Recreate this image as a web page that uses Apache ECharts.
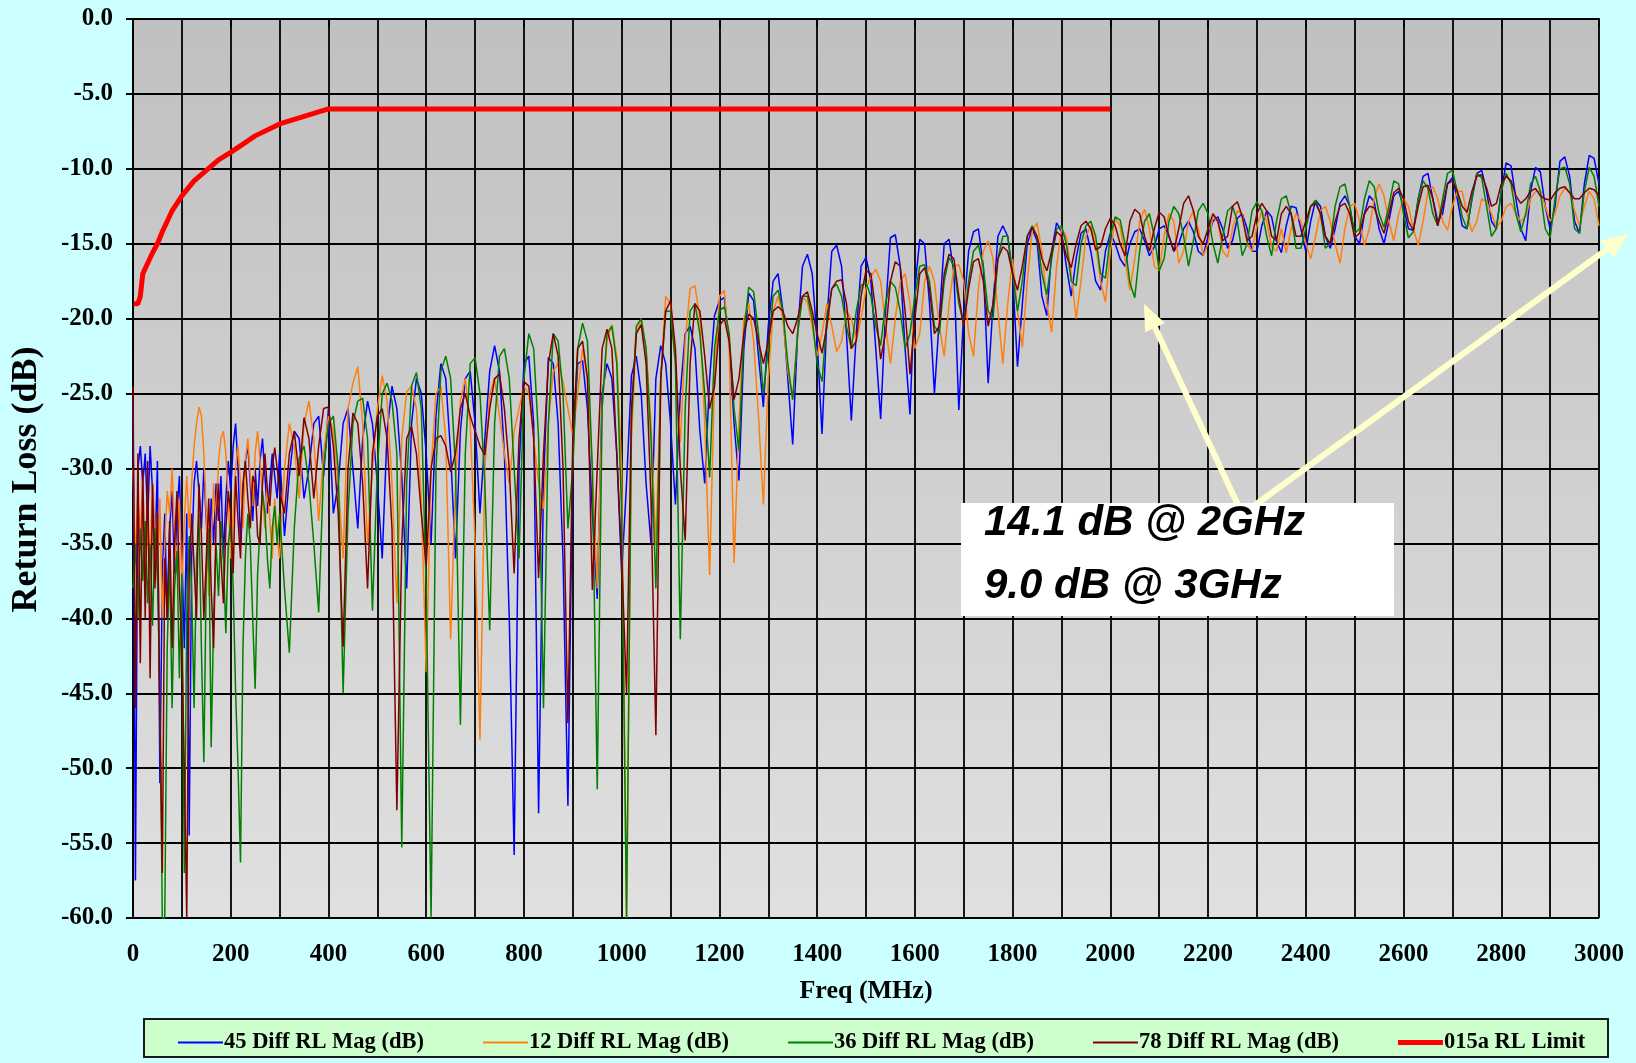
<!DOCTYPE html>
<html>
<head>
<meta charset="utf-8">
<title>Return Loss</title>
<script src="https://cdn.jsdelivr.net/npm/echarts@6.0.0/dist/echarts.min.js"></script>
<style>
  html, body { margin: 0; padding: 0; background: #ccffff; }
  #chart { width: 1636px; height: 1063px; }
</style>
</head>
<body>
<div id="chart"></div>
<script>
// frequency grid the traces were read on (MHz): 5 MHz below 300, 10 MHz above
const freqMHz = [
  ...Array.from({ length: 60 }, (_, i) => i * 5),
  ...Array.from({ length: 271 }, (_, i) => 300 + i * 10),
]

// 45 Diff RL Mag (dB)
const rl45 = [
  -25.5, -57.5, -30.0, -28.5, -31.0, -29.0, -33.5, -28.5, -31.5, -36.0,
  -29.5, -51.0, -37.0, -33.0, -40.0, -34.0, -31.5, -37.0, -33.0, -30.5,
  -35.5, -42.0, -33.0, -54.5, -36.0, -31.0, -29.5, -31.5, -34.0, -30.0,
  -33.5, -37.0, -32.0, -35.0, -31.0, -33.5, -30.5, -36.0, -32.0, -29.5,
  -31.5, -28.5, -27.0, -30.0, -35.0, -31.5, -29.5, -28.5, -31.0, -33.5,
  -30.0, -32.5, -29.5, -28.0, -30.5, -33.0, -31.0, -29.0, -30.5, -32.0,
  -29.0, -34.5, -30.5, -27.5, -28.0, -32.0, -30.0, -27.0, -26.5, -30.5,
  -26.0, -33.0, -31.0, -27.0, -26.0, -30.0, -34.0, -28.0, -25.5, -27.0,
  -31.0, -36.0, -27.5, -24.5, -26.0, -30.5, -38.0, -27.0, -24.0, -25.0,
  -29.0, -35.0, -26.5, -23.0, -24.0, -29.0, -36.0, -27.5, -24.0, -23.5,
  -27.0, -33.0, -28.0, -23.5, -21.8, -23.5, -29.0, -40.0, -55.8, -30.0,
  -23.0, -22.5, -27.0, -53.0, -31.0, -22.6, -23.0, -27.0, -36.0, -52.5,
  -29.0, -23.0, -22.8, -26.0, -33.0, -38.7, -25.0, -23.0, -24.0, -29.0,
  -37.0, -31.0, -23.8, -22.5, -25.0, -31.0, -35.0, -24.0, -21.8, -23.0,
  -27.0, -32.4, -25.0, -21.0, -20.5, -22.0, -27.5, -31.0, -24.0, -19.8,
  -18.8, -18.6, -21.5, -27.0, -30.8, -22.0, -18.3, -18.8, -22.5, -25.9,
  -20.5, -17.5, -17.0, -19.5, -24.0, -28.4, -21.0, -16.5, -15.7, -17.0,
  -21.5, -27.7, -20.0, -15.5, -15.1, -16.5, -21.0, -26.8, -21.0, -16.5,
  -15.9, -17.5, -22.0, -26.7, -19.5, -14.6, -14.4, -16.5, -22.0, -26.4,
  -18.0, -14.7, -15.0, -19.0, -25.0, -20.0, -15.0, -14.7, -17.0, -26.1,
  -19.5, -15.5, -14.2, -14.0, -16.5, -24.3, -19.0, -14.5, -13.8, -14.5,
  -17.0, -23.2, -19.0, -15.0, -14.0, -14.8, -18.5, -19.8, -15.5, -13.6,
  -14.2, -16.5, -18.5, -16.0, -14.3, -14.0, -15.5, -17.5, -18.1, -15.5,
  -14.3, -15.0, -16.0, -16.5, -15.0, -14.2, -14.0, -14.8, -15.8, -15.2,
  -14.0, -13.8, -14.5, -15.5, -15.0, -14.0, -13.5, -14.2, -15.5, -15.8,
  -14.5, -13.5, -13.2, -14.0, -15.3, -14.8, -13.3, -13.0, -14.0, -15.5,
  -15.5, -13.8, -12.8, -13.2, -14.8, -15.6, -13.8, -12.5, -12.6, -14.0,
  -15.5, -13.5, -12.1, -12.5, -14.5, -15.3, -14.0, -12.3, -11.8, -12.5,
  -14.5, -15.0, -13.0, -11.8, -12.2, -14.0, -15.0, -13.5, -11.8, -11.5,
  -12.5, -14.0, -14.1, -12.0, -10.5, -10.3, -12.0, -13.5, -13.0, -11.0,
  -10.6, -12.0, -13.8, -14.0, -12.0, -10.3, -10.1, -11.5, -13.5, -14.0,
  -11.5, -9.6, -9.8, -12.0, -14.0, -14.8, -11.5, -9.9, -10.2, -12.5,
  -14.0, -12.5, -9.5, -9.2, -10.5, -13.5, -14.3, -11.0, -9.1, -9.3,
  -11.0
]

// 12 Diff RL Mag (dB)
const rl12 = [
  -30.0, -36.0, -32.0, -34.5, -30.5, -38.0, -33.5, -36.0, -31.0, -34.0,
  -37.5, -32.0, -40.0, -35.0, -31.5, -33.0, -30.0, -34.5, -37.0, -32.0,
  -38.0, -33.5, -30.5, -34.0, -31.0, -28.5, -27.0, -25.9, -26.5, -29.0,
  -33.0, -38.5, -35.0, -31.0, -33.5, -29.5, -28.0, -27.5, -29.0, -32.0,
  -36.0, -33.0, -30.0, -28.5, -31.0, -34.0, -29.5, -28.0, -30.5, -32.5,
  -29.0, -27.5, -29.5, -32.0, -34.0, -31.0, -33.5, -36.0, -32.0, -34.5,
  -36.0, -30.0, -27.0, -28.5, -32.0, -27.0, -25.5, -28.0, -33.5, -29.0,
  -26.5, -27.5, -31.0, -36.0, -26.0, -24.3, -23.2, -27.0, -35.0, -30.0,
  -26.0, -23.8, -25.5, -31.0, -39.0, -28.0, -24.9, -24.5, -26.0, -32.0,
  -43.6, -30.0, -25.0, -24.5, -28.0, -41.4, -31.0, -25.5, -24.0, -27.0,
  -35.0, -48.1, -30.0, -25.0, -24.0, -26.5, -29.0, -31.0, -27.5, -26.0,
  -24.5, -25.0, -28.0, -31.0, -32.7, -27.0, -23.5, -23.0, -24.2, -26.0,
  -27.8, -25.0, -22.0, -24.0, -30.0, -38.0, -26.0, -21.5, -20.4, -22.5,
  -30.0, -60.0, -28.0, -21.0, -20.0, -22.0, -27.0, -35.1, -24.0, -18.5,
  -19.0, -23.0, -28.3, -21.5, -18.0, -17.8, -20.0, -27.0, -37.1, -24.0,
  -18.5, -18.1, -22.0, -36.3, -27.0, -20.0, -19.0, -21.5, -26.5, -32.4,
  -24.0, -19.5, -18.5, -20.0, -23.5, -25.4, -21.0, -18.5, -18.9, -20.5,
  -22.5, -21.0, -19.0, -20.5, -22.2, -21.5, -19.5, -20.0, -21.5, -20.0,
  -18.0, -17.2, -16.7, -17.5, -20.5, -23.0, -20.0, -17.5, -17.0, -19.0,
  -22.0, -21.0, -17.5, -16.5, -17.5, -20.5, -22.5, -19.0, -16.5, -16.4,
  -17.5, -21.0, -22.5, -18.0, -15.5, -14.8, -16.0, -19.5, -23.0, -19.0,
  -16.0, -19.5, -21.9, -17.5, -14.2, -13.6, -15.5, -19.0, -20.9, -16.5,
  -14.0, -14.5, -17.0, -20.0, -17.5, -14.5, -13.8, -15.0, -17.5, -18.9,
  -15.5, -13.3, -13.8, -16.0, -18.1, -16.0, -13.5, -12.7, -14.0, -16.5,
  -16.8, -14.5, -13.0, -13.5, -16.3, -15.5, -13.5, -12.8, -14.0, -15.8,
  -15.0, -13.2, -13.5, -15.5, -15.9, -14.0, -12.8, -13.0, -15.0, -15.5,
  -13.8, -12.8, -13.5, -15.2, -15.5, -14.0, -15.6, -14.0, -13.0, -13.5,
  -15.0, -16.0, -14.5, -12.8, -12.5, -13.5, -15.0, -16.3, -14.0, -12.5,
  -12.3, -13.5, -15.1, -14.0, -12.0, -11.0, -11.8, -13.5, -14.8, -13.0,
  -12.0, -12.5, -14.0, -15.1, -13.5, -11.5, -11.2, -12.0, -13.5, -14.1,
  -12.5, -11.5, -11.5, -13.0, -14.2, -13.5, -12.0, -12.2, -13.0, -13.9,
  -13.5, -12.5, -12.3, -13.0, -13.5, -13.2, -12.0, -11.5, -11.5, -12.5,
  -13.5, -13.0, -11.8, -11.3, -11.6, -12.8, -13.8, -12.5, -11.5, -12.0,
  -13.8
]

// 36 Diff RL Mag (dB)
const rl36 = [
  -38.0, -35.0, -40.0, -34.0, -37.5, -33.5, -39.0, -35.0, -40.5, -34.0,
  -37.0, -45.0, -60.0, -60.0, -42.0, -36.0, -46.0, -38.0, -35.5, -44.0,
  -37.0, -57.0, -40.0, -34.5, -38.0, -46.0, -36.0, -33.0, -42.0, -49.6,
  -37.0, -34.0, -48.6, -40.0, -35.0, -38.5, -33.5, -36.0, -41.0, -35.0,
  -33.5, -38.0, -45.0, -50.0, -56.3, -42.0, -36.0, -33.0, -35.0, -40.0,
  -44.7, -37.0, -34.0, -31.5, -33.0, -36.0, -38.0, -34.0, -32.5, -35.0,
  -33.0, -38.0, -42.3, -34.0, -29.3, -28.5, -31.0, -35.0, -39.6, -30.0,
  -27.0, -26.5, -30.0, -45.0, -33.0, -27.0, -25.5, -25.3, -28.0, -39.5,
  -30.0, -25.0, -24.3, -25.5, -29.0, -55.3, -31.0, -24.5, -23.6, -26.0,
  -38.0, -60.0, -30.0, -23.5, -22.5, -24.0, -30.0, -47.1, -29.0, -23.0,
  -22.6, -25.0, -31.0, -40.8, -27.0, -22.5, -22.0, -24.0, -30.0, -36.0,
  -24.0, -21.0, -22.0, -28.0, -46.0, -27.0, -21.0, -21.5, -25.0, -34.0,
  -30.0, -22.0, -20.3, -21.5, -30.0, -51.4, -26.0, -21.0, -20.5, -23.0,
  -33.0, -60.0, -27.0, -20.5, -20.0, -22.0, -28.0, -38.0, -24.0, -19.5,
  -19.5, -23.0, -41.4, -26.0, -19.5, -19.0, -21.0, -25.0, -30.6, -22.0,
  -19.5, -19.2, -21.0, -26.0, -28.8, -21.0, -17.9, -18.2, -21.0, -25.0,
  -22.0, -18.5, -18.1, -19.5, -23.0, -25.4, -21.0, -18.5, -18.5, -20.0,
  -23.0, -24.2, -20.0, -18.0, -17.7, -18.5, -20.5, -22.0, -19.5, -17.8,
  -17.6, -18.5, -20.5, -21.8, -19.0, -17.5, -17.9, -19.5, -22.0, -21.0,
  -18.5, -16.5, -16.4, -17.5, -20.5, -21.0, -17.5, -15.9, -16.5, -19.0,
  -20.4, -17.5, -15.5, -15.1, -16.5, -19.5, -20.0, -16.0, -14.5, -14.5,
  -17.0, -19.5, -17.5, -14.5, -13.8, -14.5, -17.0, -18.4, -16.0, -14.0,
  -13.8, -15.0, -17.5, -17.8, -15.0, -13.8, -13.5, -14.5, -17.0, -17.3,
  -14.5, -13.2, -13.4, -15.0, -17.6, -18.6, -15.5, -13.5, -13.0, -14.5,
  -16.8, -16.0, -13.5, -12.5, -13.0, -14.5, -16.5, -14.8, -12.8, -12.3,
  -13.0, -15.0, -16.3, -14.5, -12.8, -12.5, -13.5, -15.8, -15.0, -12.8,
  -12.2, -12.8, -14.5, -15.8, -13.5, -12.0, -11.8, -13.0, -15.3, -15.3,
  -14.0, -12.5, -12.1, -13.0, -15.3, -15.0, -12.5, -11.2, -11.0, -12.5,
  -14.3, -14.0, -12.0, -10.8, -11.2, -13.0, -13.9, -12.5, -10.8, -11.0,
  -13.0, -14.6, -14.2, -12.0, -10.8, -11.3, -13.0, -13.8, -12.0, -10.3,
  -10.1, -11.5, -13.2, -14.0, -12.0, -10.3, -10.6, -12.5, -14.5, -14.0,
  -11.5, -10.3, -11.0, -13.0, -14.2, -13.0, -11.0, -10.5, -11.5, -14.0,
  -14.6, -12.0, -10.0, -9.9, -11.0, -14.0, -14.3, -11.5, -9.9, -10.5,
  -12.5
]

// 78 Diff RL Mag (dB)
const rl78 = [
  -24.5, -46.0, -29.0, -43.0, -30.0, -40.0, -29.5, -44.0, -31.0, -38.0,
  -33.0, -46.0, -57.0, -36.0, -40.0, -33.5, -42.0, -35.0, -31.5, -38.0,
  -42.0, -50.0, -60.0, -37.0, -33.0, -36.5, -40.0, -31.0, -34.5, -40.0,
  -36.0, -32.0, -38.0, -42.0, -33.5, -31.0, -36.0, -39.0, -34.0, -31.5,
  -33.0, -37.0, -30.5, -33.5, -36.0, -31.0, -29.5, -32.0, -34.0, -30.5,
  -31.0, -34.5, -35.0, -31.0, -29.0, -31.5, -32.5, -30.0, -28.6, -30.0,
  -31.5, -33.0, -29.0, -27.5, -30.5, -26.6, -28.0, -32.0, -28.5, -26.0,
  -25.9, -28.5, -33.0, -41.9, -30.0, -26.3, -27.0, -31.0, -38.0, -29.0,
  -26.5, -26.0, -28.0, -34.0, -52.8, -35.0, -28.0, -27.2, -29.0, -33.0,
  -36.5, -30.0, -28.0, -27.8, -28.5, -30.2, -29.0, -26.0, -25.0, -26.5,
  -27.5, -28.5, -29.1, -26.0, -24.0, -23.7, -26.0, -30.0, -37.0, -28.0,
  -24.2, -24.5, -28.0, -37.3, -29.0, -23.0, -21.0, -22.5, -30.0, -47.0,
  -28.0, -22.0, -21.5, -24.0, -38.1, -30.0, -22.0, -20.7, -22.0, -29.0,
  -36.0, -45.0, -26.0, -21.0, -20.4, -23.0, -32.0, -47.8, -24.0, -19.5,
  -18.8, -22.0, -30.0, -34.8, -23.0, -19.0, -19.5, -22.5, -26.0, -24.5,
  -20.5, -20.0, -21.5, -25.4, -24.0, -21.0, -19.7, -20.0, -21.5, -23.0,
  -21.5, -19.5, -19.2, -19.5, -20.5, -21.0, -20.0, -18.5, -18.2, -19.5,
  -21.0, -22.3, -20.5, -18.0, -17.5, -17.4, -19.0, -22.0, -21.5, -18.5,
  -16.8, -17.0, -19.5, -22.7, -21.0, -17.5, -16.2, -16.5, -19.5, -23.7,
  -20.0, -17.0, -16.6, -18.0, -21.0, -20.5, -17.0, -15.7, -16.0, -18.5,
  -20.5, -18.0, -16.2, -16.0, -17.5, -20.5, -19.0, -16.0, -15.2, -15.5,
  -17.0, -18.1, -16.5, -14.5, -13.9, -14.5, -16.0, -16.8, -15.5, -14.2,
  -14.5, -15.8, -16.6, -15.0, -13.8, -13.5, -14.0, -15.4, -15.2, -14.0,
  -13.3, -13.8, -15.0, -15.8, -13.5, -12.7, -13.0, -14.5, -15.5, -14.0,
  -12.9, -13.2, -14.5, -15.5, -14.0, -12.3, -11.8, -12.8, -14.5, -15.0,
  -14.0, -13.0, -13.5, -14.8, -14.5, -12.5, -12.2, -13.2, -14.8, -14.5,
  -13.0, -12.3, -12.8, -14.5, -14.8, -13.0, -12.5, -13.0, -14.5, -14.5,
  -13.5, -12.5, -12.3, -13.0, -14.5, -15.0, -13.5, -12.5, -12.3, -13.0,
  -14.6, -14.3, -13.0, -12.5, -12.6, -13.5, -14.3, -13.0, -11.6, -11.3,
  -12.0, -13.5, -14.1, -12.5, -11.2, -11.1, -12.0, -13.8, -12.5, -11.0,
  -10.8, -11.5, -12.5, -12.9, -11.5, -10.5, -10.4, -11.3, -12.5, -12.3,
  -11.0, -10.5, -10.8, -11.8, -12.3, -12.0, -11.5, -11.3, -11.8, -12.0,
  -12.1, -11.6, -11.3, -11.2, -11.6, -12.0, -12.0, -11.6, -11.3, -11.4,
  -11.8
]

// 015a RL Limit
const limitFreq = [1, 10, 15, 20, 30, 40, 50, 60, 80, 100, 125, 150, 175, 200, 250, 300, 350, 400, 2000]
const limitDb = [-19.0, -19.0, -18.5, -17.0, -16.3, -15.6, -15.0, -14.2, -12.8, -11.8, -10.8, -10.1, -9.4, -8.9, -7.8, -7.0, -6.5, -6.0, -6.0]

const seriesNames = ['45 Diff RL Mag (dB)', '12 Diff RL Mag (dB)', '36 Diff RL Mag (dB)', '78 Diff RL Mag (dB)', '015a RL Limit']
const seriesColors = ['#0000ff', '#ff7f0e', '#008000', '#800000', '#ff0000']
const traces = [rl45, rl12, rl36, rl78]

const serif = '"Liberation Serif", "Times New Roman", serif'

// legend swatches: plain line, no marker (tiny corner specks keep the 45x14 box)
const thinSwatch = 'path://M0,0h0.01v0.01h-0.01z M0,6h45v2h-45z M0,14h0.01v-0.01h-0.01z'
const thickSwatch = 'path://M0,0h0.01v0.01h-0.01z M0,4.5h45v5h-45z M0,14h0.01v-0.01h-0.01z'

const chart = echarts.init(document.getElementById('chart'))

// yellow call-out arrow: shaft plus triangular head
function arrow(x1, y1, x2, y2) {
  const dx = x2 - x1, dy = y2 - y1
  const len = Math.hypot(dx, dy)
  const ux = dx / len, uy = dy / len
  const hl = 26, hw = 11
  const bx = x2 - ux * hl, by = y2 - uy * hl
  return [
    { type: 'line', z: 50, shape: { x1, y1, x2: bx, y2: by }, style: { stroke: '#ffffcc', lineWidth: 6 } },
    { type: 'polygon', z: 50, shape: { points: [[x2, y2], [bx - uy * hw, by + ux * hw], [bx + uy * hw, by - ux * hw]] }, style: { fill: '#ffffcc' } },
  ]
}

const gridLine = { show: true, lineStyle: { color: '#000', width: 1.8 } }

chart.setOption({
  backgroundColor: '#ccffff',
  animation: false,
  grid: {
    left: 133, right: 37, top: 19, bottom: 145,
    show: true,
    borderColor: '#808080',
    borderWidth: 1,
    backgroundColor: new echarts.graphic.LinearGradient(0, 0, 0, 1, [
      { offset: 0, color: '#c0c0c0' },
      { offset: 1, color: '#e0e0e0' },
    ]),
  },
  xAxis: {
    type: 'value',
    min: 0, max: 3000, interval: 200,
    name: 'Freq (MHz)',
    nameLocation: 'middle',
    nameGap: 60,
    nameTextStyle: { fontFamily: serif, fontWeight: 'bold', fontSize: 26, color: '#000' },
    axisLine: { lineStyle: { color: '#000', width: 2 } },
    axisTick: { show: true, length: 8, lineStyle: { color: '#000', width: 2 } },
    axisLabel: {
      margin: 24, fontFamily: serif, fontWeight: 'bold', fontSize: 25, color: '#000',
      formatter: v => String(v),
    },
    splitLine: gridLine,
    minorTick: { show: false, splitNumber: 2 },
    minorSplitLine: gridLine,
  },
  yAxis: {
    type: 'value',
    min: -60, max: 0, interval: 5,
    name: 'Return Loss (dB)',
    nameLocation: 'middle',
    nameGap: 88,
    nameTextStyle: { fontFamily: serif, fontWeight: 'bold', fontSize: 36, color: '#000', padding: [0, 22, 0, 0] },
    axisLine: { show: true, lineStyle: { color: '#000', width: 2 } },
    axisTick: { show: true, length: 7, lineStyle: { color: '#000', width: 2 } },
    axisLabel: {
      margin: 20, fontFamily: serif, fontWeight: 'bold', fontSize: 25, color: '#000',
      formatter: v => v.toFixed(1),
    },
    splitLine: gridLine,
  },
  legend: {
    left: 173, top: 1026,
    itemWidth: 45, itemHeight: 14, itemGap: 59,
    textStyle: { fontFamily: serif, fontWeight: 'bold', fontSize: 22.5, color: '#000', padding: [0, 0, 0, -4] },
    data: seriesNames.map((name, i) => ({ name, icon: i === 4 ? thickSwatch : thinSwatch })),
  },
  graphic: [
    // legend frame
    { type: 'rect', z: 0, shape: { x: 144, y: 1019, width: 1464, height: 38 }, style: { fill: '#ccffcc', stroke: '#1a1a1a', lineWidth: 2 } },
    ...arrow(1238, 505, 1144, 304),
    ...arrow(1255, 505, 1628, 234),
    // call-out box
    { type: 'rect', z: 60, shape: { x: 961, y: 503, width: 433, height: 113 }, style: { fill: '#ffffff' } },
    { type: 'text', z: 61, x: 984, y: 523, style: { text: '14.1 dB @ 2GHz', font: 'italic bold 42px "Liberation Sans", Arial, sans-serif', fill: '#000', verticalAlign: 'middle' } },
    { type: 'text', z: 61, x: 984, y: 586, style: { text: '9.0 dB @ 3GHz', font: 'italic bold 42px "Liberation Sans", Arial, sans-serif', fill: '#000', verticalAlign: 'middle' } },
  ],
  series: [
    ...traces.map((t, k) => ({
      name: seriesNames[k],
      type: 'line',
      symbol: 'none',
      color: seriesColors[k],
      lineStyle: { width: 1.5, color: seriesColors[k] },
      data: freqMHz.map((f, i) => [f, t[i]]),
    })),
    {
      name: seriesNames[4],
      type: 'line',
      symbol: 'none',
      color: seriesColors[4],
      lineStyle: { width: 5, color: seriesColors[4] },
      data: limitFreq.map((f, i) => [f, limitDb[i]]),
    },
  ],
})
</script>
</body>
</html>
